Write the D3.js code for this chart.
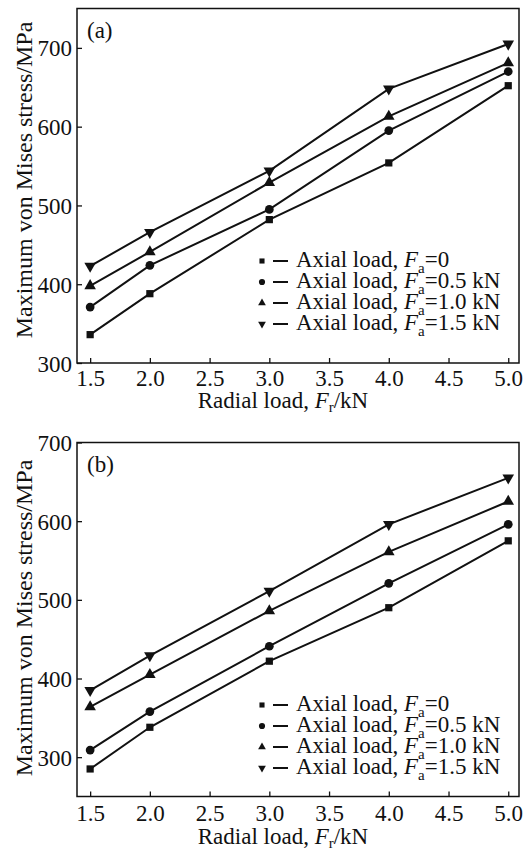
<!DOCTYPE html>
<html>
<head>
<meta charset="utf-8">
<script src="https://cdn.jsdelivr.net/npm/d3@7"></script>
<style>
  html, body { margin: 0; padding: 0; background: #fff; }
  svg { display: block; }
  text { font-family: "Liberation Serif", "Times New Roman", serif; fill: #111; }
</style>
</head>
<body>
<svg id="chart" width="523" height="851"></svg>
<script>
// Radial load levels (kN)
const radialLoads = [1.5, 2.0, 3.0, 4.0, 5.0];
const xTicks = [1.5, 2.0, 2.5, 3.0, 3.5, 4.0, 4.5, 5.0];

// Axial load series labels (value after "F_a=")
const axialLabels = ["0", "0.5 kN", "1.0 kN", "1.5 kN"];
const markerTypes = ["square", "circle", "triangle", "triangleDown"];

// Panel (a): maximum von Mises stress (MPa)
const stressA_Fa0   = [336, 388, 482, 554, 652];
const stressA_Fa05  = [371, 424, 495, 595, 670];
const stressA_Fa10  = [398, 441, 529, 613, 681];
const stressA_Fa15  = [423, 466, 544, 648, 705];
const yTicksA = [300, 400, 500, 600, 700];

// Panel (b): maximum von Mises stress (MPa)
const stressB_Fa0   = [285, 338, 422, 490, 575];
const stressB_Fa05  = [309, 358, 441, 521, 596];
const stressB_Fa10  = [364, 405, 486, 561, 625];
const stressB_Fa15  = [385, 429, 511, 596, 655];
const yTicksB = [300, 400, 500, 600, 700];

const svg = d3.select("#chart");

const panels = [
  { tag: "(a)", series: [stressA_Fa0, stressA_Fa05, stressA_Fa10, stressA_Fa15],
    yDomain: [300, 750], yTicks: yTicksA, top: 8.5, bottom: 363,
    legendY: 267, tickLabelDy: 23, xLabelDy: 45, yLabelCy: 180 },
  { tag: "(b)", series: [stressB_Fa0, stressB_Fa05, stressB_Fa10, stressB_Fa15],
    yDomain: [250, 700], yTicks: yTicksB, top: 442.5, bottom: 796.5,
    legendY: 711, tickLabelDy: 24, xLabelDy: 47, yLabelCy: 618 }
];

const left = 77, right = 519;

function symbolFor(type, size) {
  const map = {
    square: d3.symbolSquare,
    circle: d3.symbolCircle,
    triangle: d3.symbolTriangle,
    triangleDown: d3.symbolTriangle
  };
  return d3.symbol().type(map[type]).size(size)();
}

panels.forEach(p => {
  const g = svg.append("g");
  const x = d3.scaleLinear().domain([1.39, 5.09]).range([left, right]);
  const y = d3.scaleLinear().domain(p.yDomain).range([p.bottom, p.top]);

  // Frame
  g.append("rect")
    .attr("x", left).attr("y", p.top)
    .attr("width", right - left).attr("height", p.bottom - p.top)
    .attr("fill", "none").attr("stroke", "#111").attr("stroke-width", 1.5);

  // Bottom axis, ticks pointing inward
  const xAxis = d3.axisBottom(x).tickValues(xTicks).tickFormat(d3.format(".1f"))
    .tickSizeInner(-5).tickSizeOuter(0).tickPadding(0);
  const xg = g.append("g").attr("transform", `translate(0,${p.bottom})`).call(xAxis);
  xg.select(".domain").remove();
  xg.selectAll(".tick line").attr("stroke", "#111").attr("stroke-width", 1.3);
  xg.selectAll(".tick text")
    .attr("y", p.tickLabelDy).attr("dy", 0)
    .style("font-size", "23px").attr("fill", "#111");

  // Left axis, ticks pointing inward
  const yAxis = d3.axisLeft(y).tickValues(p.yTicks)
    .tickSizeInner(-5).tickSizeOuter(0).tickPadding(5);
  const yg = g.append("g").attr("transform", `translate(${left},0)`).call(yAxis);
  yg.select(".domain").remove();
  yg.selectAll(".tick line").attr("stroke", "#111").attr("stroke-width", 1.3);
  yg.selectAll(".tick text")
    .attr("x", -5).attr("dy", "0.35em")
    .style("font-size", "23px").attr("fill", "#111");

  // Axis titles
  const xt = g.append("text")
    .attr("x", 283).attr("y", p.bottom + p.xLabelDy)
    .attr("text-anchor", "middle").style("font-size", "23px");
  xt.append("tspan").text("Radial load, ");
  xt.append("tspan").attr("font-style", "italic").text("F");
  xt.append("tspan").attr("dy", 4).style("font-size", "15px").text("r");
  xt.append("tspan").attr("dy", -4).text("/kN");

  g.append("text")
    .attr("transform", `translate(32,${p.yLabelCy}) rotate(-90)`)
    .attr("text-anchor", "middle").style("font-size", "24px")
    .text("Maximum von Mises stress/MPa");

  // Panel tag
  g.append("text").attr("x", 87).attr("y", p.top + 29)
    .style("font-size", "23px").text(p.tag);

  // Series lines and markers
  const line = d3.line().x((d, i) => x(radialLoads[i])).y(d => y(d));
  p.series.forEach((vals, si) => {
    g.append("path").datum(vals)
      .attr("d", line).attr("fill", "none")
      .attr("stroke", "#111").attr("stroke-width", 2);
    const type = markerTypes[si];
    g.selectAll(null).data(vals).enter().append("path")
      .attr("d", symbolFor(type, type === "circle" ? 60 : (type === "square" ? 52 : 58)))
      .attr("transform", (d, i) =>
        `translate(${x(radialLoads[i])},${y(d)})` + (type === "triangleDown" ? " rotate(180)" : ""))
      .attr("fill", "#111");
  });

  // Legend
  const lg = g.append("g");
  axialLabels.forEach((lab, si) => {
    const by = p.legendY + si * 21;
    const type = markerTypes[si];
    lg.append("path")
      .attr("d", symbolFor(type, type === "circle" ? 30 : 26))
      .attr("transform", `translate(262,${by - 6})` + (type === "triangleDown" ? " rotate(180)" : ""))
      .attr("fill", "#111");
    lg.append("line")
      .attr("x1", 273).attr("x2", 288).attr("y1", by - 6).attr("y2", by - 6)
      .attr("stroke", "#111").attr("stroke-width", 2);
    const t = lg.append("text").attr("x", 296).attr("y", by).style("font-size", "23px");
    t.append("tspan").text("Axial load, ");
    t.append("tspan").attr("font-style", "italic").text("F");
    t.append("tspan").attr("dy", 6).style("font-size", "15px").text("a");
    t.append("tspan").attr("dy", -6).text("=" + lab);
  });
});
</script>
</body>
</html>
